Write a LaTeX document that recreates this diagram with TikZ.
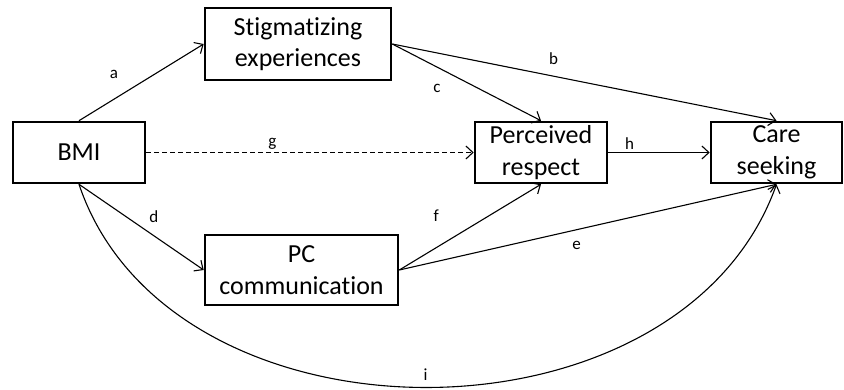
\documentclass[tikz,border=0pt]{standalone}
\usepackage{fontspec}
\setmainfont{Carlito}[Ligatures=NoCommon]
\usetikzlibrary{arrows.meta}
\tikzset{
  varbox/.style={
    draw, line width=2.6pt, align=center, inner sep=0pt,
    font=\fontsize{26}{31.5}\selectfont
  },
  link/.style={
    line width=1.1pt, -{Straight Barb[length=7pt, width=13pt, line width=1.1pt]}
  },
  lbl/.style={font=\fontsize{17}{20}\selectfont, inner sep=1pt}
}

\begin{document}
\begin{tikzpicture}[x=1pt, y=1pt]
    \useasboundingbox (0,0) rectangle (844,389);

    % Boxes
    \node[varbox, minimum width=132, minimum height=61] (BMI) at (79,236.5) {BMI};
    \node[varbox, minimum width=186, minimum height=72] (Stig) at (298,345) {Stigmatizing\\experiences};
    \node[varbox, minimum width=132, minimum height=61] (Resp) at (541,236.5) {Perceived\\respect};
    \node[varbox, minimum width=131, minimum height=61] (Care) at (776.5,236.5) {Care\\seeking};
    \node[varbox, minimum width=193, minimum height=70] (PC) at (301.5,119) {PC\\communication};

    % Paths from BMI
    \draw[link] (BMI.north) -- node[lbl, pos=0.28, above=19pt] (la) {a} (Stig.west);
    \draw[link] (BMI.south) -- node[lbl, pos=0.6, above=12pt] (ld) {d} (PC.west);
    \draw[link, dash pattern=on 5pt off 3pt] (BMI.east) -- node[lbl, pos=0.385, above=2pt] (lg) {g} (Resp.west);
    \draw[link] (BMI.south) .. controls (170,-66) and (680,-66) .. node[lbl, pos=0.5, above=5pt] (li) {i} (Care.south);

    % Paths from the mediators
    \draw[link] (Stig.east) -- node[lbl, pos=0.42, above=10pt] (lb) {b} (Care.north);
    \draw[link] (Stig.east) -- node[lbl, pos=0.3, below=16pt] (lc) {c} (Resp.north);
    \draw[link] (PC.east) -- node[lbl, pos=0.26, above=25pt] (lf) {f} (Resp.south);
    \draw[link] (PC.east) -- node[lbl, pos=0.47, below=10pt] (le) {e} (Care.south);
    \draw[link] (Resp.east) -- node[lbl, pos=0.21, above=1pt] (lh) {h} (Care.west);

\end{tikzpicture}
\end{document}
